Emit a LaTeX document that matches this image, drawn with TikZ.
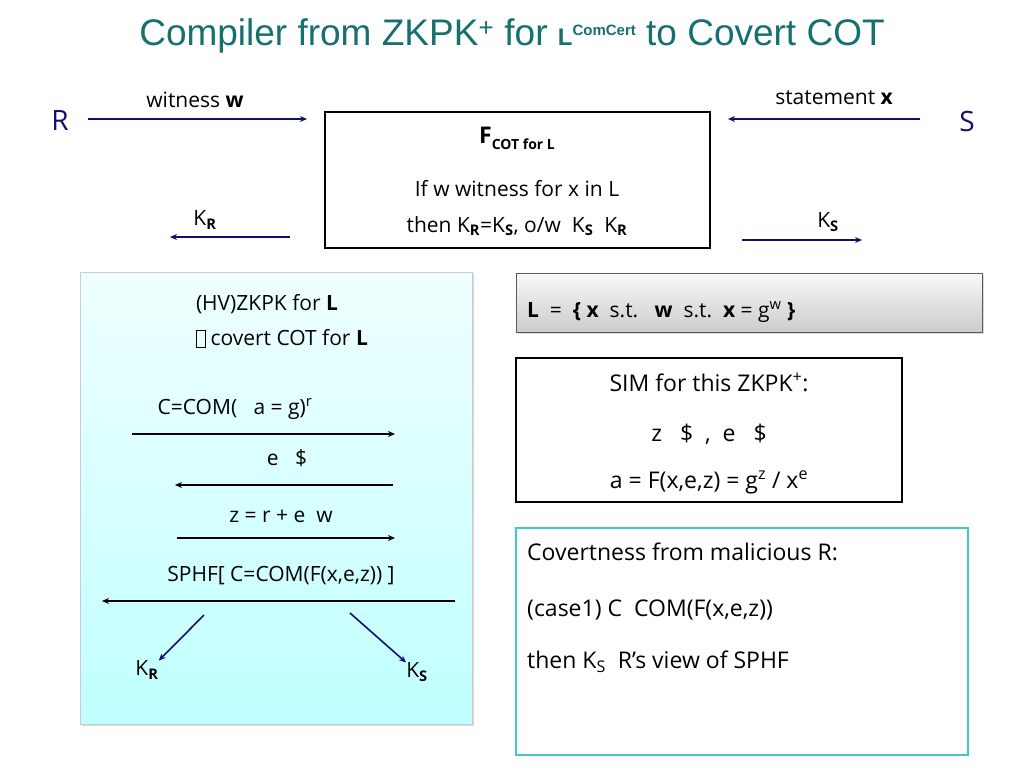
\documentclass[tikz,border=0pt]{standalone}
\usepackage{fontspec}
\setmainfont{Open Sans}
\newfontfamily\arialf{Liberation Sans}
\usetikzlibrary{arrows.meta,shadows}
\definecolor{teal1}{RGB}{22,112,112}
\definecolor{navy1}{RGB}{16,16,110}
\definecolor{cyanb}{RGB}{64,200,200}
\newcommand{\tofu}{\raisebox{-1pt}{\framebox(9,16){}}}
\begin{document}
\begin{tikzpicture}[x=1pt,y=-1pt,
  txt/.style={font=\fontsize{21}{24}\selectfont,inner sep=0pt,anchor=center},
  big/.style={font=\fontsize{23}{28}\selectfont,inner sep=0pt},
  narr/.style={draw=navy1,line width=1.6pt,-{Stealth[length=7pt,width=6pt]}},
  barr/.style={draw=black,line width=1.6pt,-{Stealth[length=7pt,width=6pt]}}]
\useasboundingbox (0,0) rectangle (1024,768);
\node[inner sep=0pt,text=teal1,font=\arialf\fontsize{37}{40}\selectfont] (title) at (512,36)
  {Compiler from ZKPK\textsuperscript{+} for \textbf{\fontsize{24}{26}\selectfont L}\raisebox{10pt}{\textbf{\fontsize{15}{16}\selectfont ComCert}} to Covert COT};
\node[txt,text=navy1,font=\fontsize{28}{30}\selectfont] (R) at (60,121) {R};
\node[txt,text=navy1,font=\fontsize{28}{30}\selectfont] (S) at (967,121) {S};
\node[txt] (wit) at (195,100) {witness \textbf{w}};
\coordinate (wa) at (88,119); \coordinate (wb) at (307,119);
\draw[narr] (wa) -- (wb);
\node[txt] (stm) at (834,98) {statement \textbf{x}};
\coordinate (sa) at (920,119); \coordinate (sb) at (728,119);
\draw[narr] (sa) -- (sb);
\node[draw,line width=1.5pt,minimum width=385pt,minimum height=136pt,inner sep=0pt] (F) at (517.5,180) {};
\node[txt] (Ft) at (517,138) {\textbf{\fontsize{23}{26}\selectfont F}\raisebox{-6pt}{\textbf{\fontsize{14}{16}\selectfont COT for L}}};
\node[txt] (F1) at (517,189) {If w witness for x in L};
\node[txt] (F2) at (517,226) {then K\textsubscript{\textbf{R}}=K\textsubscript{\textbf{S}}, o/w\ \ K\textsubscript{\textbf{S}}\ \ K\textsubscript{\textbf{R}}};
\node[txt] (KR) at (205,220) {K\textsubscript{\textbf{R}}};
\coordinate (ka) at (290,237); \coordinate (kb) at (170,237);
\draw[narr] (ka) -- (kb);
\node[txt] (KS) at (828,222) {K\textsubscript{\textbf{S}}};
\coordinate (kc) at (742,240); \coordinate (kd) at (862,240);
\draw[narr] (kc) -- (kd);
% left panel
\node[draw=gray!40,top color=cyan!6,bottom color=cyan!25,minimum width=392pt,minimum height=452pt,inner sep=0pt,drop shadow={shadow xshift=2pt,shadow yshift=-2pt,opacity=0.3}] (P) at (276,498) {};
\node[txt] (p1) at (267,304) {(HV)ZKPK for \textbf{L}};
\node[txt] (p2) at (282,338) {\tofu\ covert COT for \textbf{L}};
\node[txt] (p3) at (235,409) {C=COM(\ \ \ a = g)\textsuperscript{r}};
\coordinate (a1) at (132,434); \coordinate (a2) at (395,434);
\draw[barr] (a1) -- (a2);
\node[txt] (p4) at (287,458) {e\ \ \ \$};
\coordinate (b1) at (393,485); \coordinate (b2) at (175,485);
\draw[barr] (b1) -- (b2);
\node[txt] (p5) at (281,516) {z = r + e\ \ w};
\coordinate (c1) at (177,538); \coordinate (c2) at (395,538);
\draw[barr] (c1) -- (c2);
\node[txt] (p6) at (281,576) {SPHF[ C=COM(F(x,e,z)) ]};
\coordinate (d1) at (455,601); \coordinate (d2) at (102,601);
\draw[barr] (d1) -- (d2);
\node[txt] (KR2) at (147,670) {K\textsubscript{\textbf{R}}};
\node[txt] (KS2) at (417,672) {K\textsubscript{\textbf{S}}};
\coordinate (e1) at (204,615); \coordinate (e2) at (350,613);
\draw[narr] (e1) -- (KR2.north east);
\draw[narr] (e2) -- (KS2.north west);
% L box
\node[draw=gray!70!black,top color=gray!5,bottom color=gray!40,minimum width=466pt,minimum height=59pt,inner sep=0pt,drop shadow={shadow xshift=2pt,shadow yshift=-2pt,opacity=0.3}] (Lb) at (749,302.5) {};
\node[txt,anchor=west] (Lt) at (527,312) {\textbf{L}\ \ =\ \ \textbf{\{ x}\ \ s.t.\ \ \ \textbf{w}\ \ s.t.\ \ \textbf{x} = g\textsuperscript{w} \textbf{\}}};
% SIM box
\node[draw,line width=2pt,minimum width=386pt,minimum height=144pt,inner sep=0pt] (SIM) at (709,430) {};
\node[txt,font=\fontsize{23}{26}\selectfont] (s1) at (709,382) {SIM for this ZKPK\textsuperscript{+}:};
\node[txt,font=\fontsize{23}{26}\selectfont] (s2) at (709,434) {z\ \ \ \$\ \ ,\ \ e\ \ \ \$};
\node[txt,font=\fontsize{23}{26}\selectfont] (s3) at (709,482) {a = F(x,e,z) = g\textsuperscript{z} / x\textsuperscript{e}};
% covert box
\node[draw=cyanb,line width=2pt,minimum width=452pt,minimum height=227pt,inner sep=0pt] (CV) at (742,641.5) {};
\node[txt,anchor=west,font=\fontsize{23}{26}\selectfont] (c1t) at (527,552) {Covertness from malicious R:};
\node[txt,anchor=west,font=\fontsize{23}{26}\selectfont] (c2t) at (527,610) {(case1) C\ \ COM(F(x,e,z))};
\node[txt,anchor=west,font=\fontsize{23}{26}\selectfont] (c3t) at (527,662) {then K\textsubscript{S}\ \ R’s view of SPHF};
\end{tikzpicture}
\end{document}
